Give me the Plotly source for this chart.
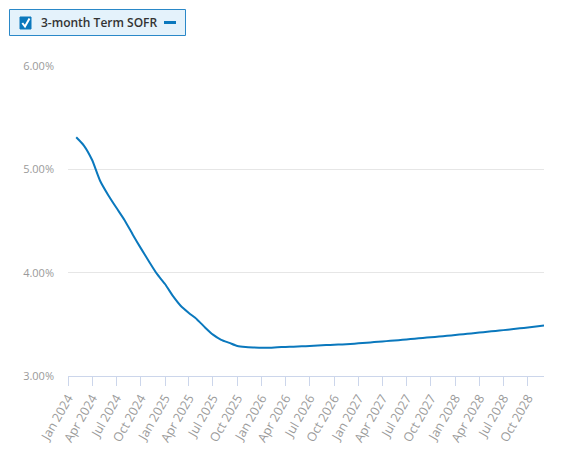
import plotly.graph_objects as go
import pandas as pd

# ---- data ----
series_name = "3-month Term SOFR"
start_month = "2024-02-01"
sofr_values = [
    5.31, 5.23, 5.09, 4.89, 4.75, 4.63, 4.51, 4.37, 4.24, 4.11, 3.99,   # Feb-Dec 2024
    3.89, 3.77, 3.68, 3.61, 3.55, 3.47, 3.40, 3.35, 3.32, 3.29, 3.28, 3.276,  # 2025
    3.273, 3.274, 3.278, 3.281, 3.284, 3.287, 3.291, 3.295, 3.299, 3.303, 3.306, 3.310,  # 2026
    3.316, 3.322, 3.328, 3.334, 3.341, 3.347, 3.353, 3.361, 3.368, 3.375, 3.382, 3.389,  # 2027
    3.397, 3.405, 3.412, 3.420, 3.428, 3.436, 3.444, 3.452, 3.461, 3.470, 3.479, 3.488,  # 2028
]
dates = pd.date_range(start_month, periods=len(sofr_values), freq="MS")
y_ticks = [3, 4, 5, 6]
y_tick_labels = [f"{v:.2f}%" for v in y_ticks]

# ---- style ----
BLUE = "#0a78bd"
W, H = 571, 452
L, R, T, B = 68, 27, 66, 76
PW, PH = W - L - R, H - T - B


def px_x(px):
    return (px - L) / PW


def px_y(py):
    return (H - B - py) / PH


fig = go.Figure()
fig.add_trace(go.Scatter(
    x=dates, y=sofr_values, mode="lines", name=series_name,
    line=dict(color=BLUE, width=2, shape="spline", smoothing=0.6), showlegend=False,
    hovertemplate="%{x|%b %Y}: %{y:.2f}%<extra></extra>",
))

fig.update_layout(
    width=W, height=H,
    margin=dict(l=L, r=R, t=T, b=B, autoexpand=False),
    paper_bgcolor="white", plot_bgcolor="white",
    font=dict(family="Open Sans, Noto Sans, sans-serif", color="#999999", size=11),
    xaxis=dict(
        range=["2024-01-01", "2028-12-01"], automargin=False,
        tick0="2024-01-01", dtick="M3", tickformat="%b %Y",
        tickangle=-60, ticks="outside", ticklen=9, tickcolor="#ccd6eb",
        showline=True, linecolor="#ccd6eb", linewidth=1,
        showgrid=False, zeroline=False,
        tickfont=dict(size=12.5, color="#9a9a9a"),
    ),
    yaxis=dict(
        range=[3, 6], tickvals=y_ticks, ticktext=y_tick_labels, automargin=False,
        showgrid=True, gridcolor="#e6e6e6", gridwidth=1,
        zeroline=False, showline=False, ticks="",
        ticklabelstandoff=13,
        tickfont=dict(size=11, color="#9a9a9a"),
    ),
)

# ---- custom legend box ----
shapes = [
    dict(type="rect", xref="paper", yref="paper",
         x0=px_x(9.5), x1=px_x(185.5), y0=px_y(35.5), y1=px_y(9.5),
         fillcolor="#e4f2fb", line=dict(color="#2a88c8", width=1), layer="above"),
    dict(type="rect", xref="paper", yref="paper",
         x0=px_x(20), x1=px_x(31), y0=px_y(29), y1=px_y(17),
         fillcolor=BLUE, line=dict(color=BLUE, width=1), layer="above"),
    dict(type="path", xref="paper", yref="paper",
         path=f"M {px_x(22.3)} {px_y(23)} L {px_x(25)} {px_y(26.5)} L {px_x(29.5)} {px_y(18.5)}",
         line=dict(color="white", width=2), layer="above"),
    dict(type="line", xref="paper", yref="paper",
         x0=px_x(164), x1=px_x(176), y0=px_y(22.5), y1=px_y(22.5),
         line=dict(color=BLUE, width=3), layer="above"),
]
fig.update_layout(shapes=shapes)
fig.add_annotation(
    x=px_x(39), y=px_y(22.5), xref="paper", yref="paper",
    xanchor="left", yanchor="middle", showarrow=False,
    text=series_name,
    font=dict(size=12, color="#333333", family="Open Sans, Noto Sans, sans-serif", weight=600),
)

fig.write_html("out.html", config={"displayModeBar": False},
               post_script="document.body.style.margin='0px';")
